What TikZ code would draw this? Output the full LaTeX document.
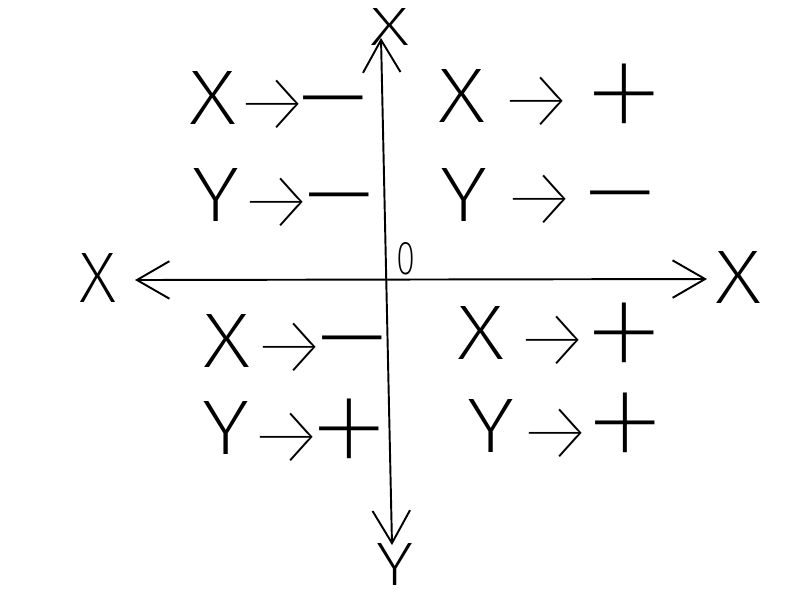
\documentclass[tikz,border=0pt]{standalone}
\usepackage{fontspec}
\setmainfont{Fira Sans ExtraLight}
\newfontfamily\thinfont{Fira Sans Thin}
\usepackage{tikz}
\usetikzlibrary{arrows.meta}

\begin{document}
\begin{tikzpicture}[x=0.02cm,y=-0.02cm,line width=1.1pt,
   axis/.style={{Straight Barb[length=0.65cm,width=0.75cm]}-{Straight Barb[length=0.65cm,width=0.75cm]}},
   lbl/.style={inner sep=0pt},
   sgn/.style={inner sep=0pt,anchor=north,font=\thinfont}]
\useasboundingbox (0,0) rectangle (800,600);
\coordinate (xl) at (135,280);
\coordinate (xr) at (707,279);
\coordinate (yt) at (381,38);
\coordinate (yb) at (392,545);
\draw[axis] (xl) -- (xr);
\draw[axis] (yt) -- (yb);
\node[lbl] (lx) at (98,278) {\resizebox{0.74cm}{0.98cm}{X}};
\node[lbl] (rx) at (738,277) {\resizebox{0.92cm}{1.04cm}{X}};
\node[lbl] (tx) at (390,27) {\resizebox{0.78cm}{0.74cm}{X}};
\node[lbl] (by) at (395,564) {\resizebox{0.74cm}{0.84cm}{Y}};
\node[lbl] (o) at (406,259) {\resizebox{0.38cm}{0.64cm}{0}};
% rows: letter, arrow, sign (top of the sign)
\foreach \lx/\ly/\l/\ax/\ay/\sx/\sy/\s [count=\i] in %
{213/98/X/273/96/333/95/−,
 216/195/Y/277/194/339/192/−,
 462/96/X/537/93/624/63/+,
 464/195/Y/540/191/620/190/−,
 227/341/X/290/339/352/335/−,
 226/428/Y/287/429/349/398/+,
 481/333/X/553/332/624/302/+,
 491/426/Y/556/425/625/392/+} {
   \node[lbl] (l\i) at (\lx,\ly) {\resizebox{0.94cm}{1.06cm}{\l}};
   \node[sgn] (a\i) at (\ax,\ay-17) {\resizebox{1.65cm}{!}{→}};
   \node[sgn] (s\i) at (\sx,\sy) {\resizebox{1.75cm}{!}{\s}};
}
\end{tikzpicture}
\end{document}
